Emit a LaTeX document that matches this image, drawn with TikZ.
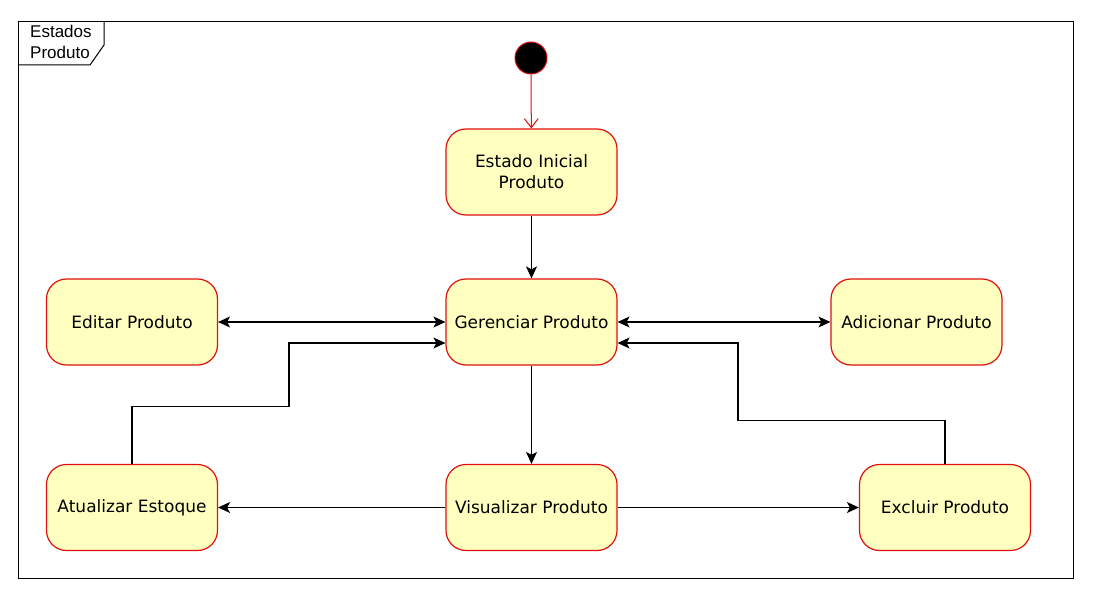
\documentclass[tikz,border=0pt]{standalone}
\usepackage{fontspec}
\setmainfont{DejaVu Sans}
\newfontfamily\framefont{Liberation Sans}
\usetikzlibrary{arrows.meta}
\definecolor{stfill}{HTML}{FFFFC0}
\definecolor{stline}{HTML}{E01010}
\begin{document}
\begin{tikzpicture}[x=1pt,y=-1pt,
  state/.style={draw=stline,fill=stfill,line width=1.2pt,rounded corners=20pt,minimum width=171pt,minimum height=86pt,inner sep=0pt,font=\fontsize{17}{21}\selectfont,align=center},
  conn/.style={draw=black,line width=1.1pt,-{Stealth[length=12pt,width=11pt,inset=3pt]}},
  bconn/.style={draw=black,line width=1.1pt,{Stealth[length=12pt,width=11pt,inset=3pt]}-{Stealth[length=12pt,width=11pt,inset=3pt]}}]
\useasboundingbox (0,0) rectangle (1098,596);
\fill[white] (0,0) rectangle (1098,596);
% frame
\draw[line width=1pt] (18,22) rectangle (1073,578);
\draw[line width=1pt] (18,65) -- (90,65) -- (104,45) -- (104,22);
\node[font=\framefont\fontsize{17}{21}\selectfont,align=left,anchor=north west,inner sep=0pt] (lbl) at (30,25) {Estados\\Produto};
% nodes
\node[circle,draw=stline,fill=black,line width=1pt,minimum size=32pt,inner sep=0pt] (init) at (531,58) {};
\node[state] (ini) at (531.5,172) {Estado Inicial\\Produto};
\node[state] (ger) at (531.5,322) {Gerenciar Produto};
\node[state] (edi) at (132,322) {Editar Produto};
\node[state] (adi) at (916.5,322) {Adicionar Produto};
\node[state] (atu) at (132,507.5) {Atualizar Estoque};
\node[state] (vis) at (531.5,507.5) {Visualizar Produto};
\node[state] (exc) at (945,507.5) {Excluir Produto};
\coordinate (atuL) at (289,343);
\coordinate (excL) at (738,343);
% connectors
\draw[draw=stline,line width=1pt,-{Straight Barb[length=9pt,width=14pt]}] (init) -- (ini);
\draw[conn] (ini) -- (ger);
\draw[bconn] (edi) -- (ger);
\draw[bconn] (ger) -- (adi);
\draw[conn] (ger) -- (vis);
\draw[conn] (vis) -- (atu);
\draw[conn] (vis) -- (exc);
\draw[conn] (atu.north) -- ++(0,-57.5) -| (atuL) -- (ger.west |- atuL);
\draw[conn] (exc.north) -- ++(0,-43.5) -| (excL) -- (ger.east |- excL);
\end{tikzpicture}
\end{document}
